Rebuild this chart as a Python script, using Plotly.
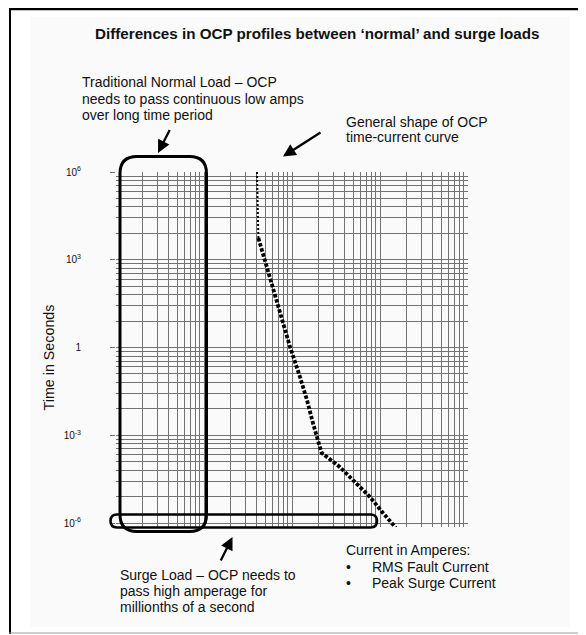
import plotly.graph_objects as go

# ---------------- data ----------------
# thin dotted top part of OCP time-current curve (current A, time s)
upper_current = [40, 41.5]
upper_time = [1e6, 5500]
# thick dotted main part
lower_current = [41.5, 56, 73, 95, 123, 148, 173, 217, 351, 493, 770, 1082, 1515]
lower_time = [5500, 257, 15, 1.05, 0.1, 0.016, 0.0026, 2.5e-4, 8.1e-5, 2.9e-5, 7.7e-6, 2.2e-6, 6.8e-7]

y_major_vals = [1e-6, 1e-3, 1, 1e3, 1e6]
y_major_text = ["10<sup>-6</sup>", "10<sup>-3</sup>", "1", "10<sup>3</sup>", "10<sup>6</sup>"]
# log-paper grid: each labelled cycle spans 3 decades
y_minor_vals = [(m ** 3) * 10 ** (3 * k) for k in range(-2, 2) for m in range(2, 10)]
x_major_vals = [1, 10, 100, 1000, 10000]
x_minor_vals = [m * 10 ** k for k in range(0, 4) for m in range(2, 10)]

title_text = "Differences in OCP profiles between \u2018normal\u2019 and surge loads"
normal_lines = ["Traditional Normal Load \u2013 OCP", "needs to pass continuous low amps", "over long time period"]
shape_lines = ["General shape of OCP", "time-current curve"]
surge_lines = ["Surge Load \u2013 OCP needs to", "pass high amperage for", "millionths of a second"]
current_head = "Current in Amperes:"
current_items = ["RMS Fault Current", "Peak Surge Current"]

# ---------------- layout geometry ----------------
OFF = 8                      # page body margin: figure starts 8px in
W, H = 586 - OFF, 635 - OFF
# plot area in page pixels
PL, PR, PT, PB = 116, 468, 172, 527
L, R, T, B = PL - OFF, PR - OFF, PT - OFF, PB - OFF
FONT = "Liberation Sans, Arial, sans-serif"
GRID = "#727272"


def px(xp):
    return (xp - PL) / (PR - PL)


def py(yp):
    return (PB - yp) / (PB - PT)


def rounded_path(x0, y0, x1, y1, r):
    pts = [
        ("M", [(x0 + r, y0)]), ("L", [(x1 - r, y0)]), ("Q", [(x1, y0), (x1, y0 + r)]),
        ("L", [(x1, y1 - r)]), ("Q", [(x1, y1), (x1 - r, y1)]),
        ("L", [(x0 + r, y1)]), ("Q", [(x0, y1), (x0, y1 - r)]),
        ("L", [(x0, y0 + r)]), ("Q", [(x0, y0), (x0 + r, y0)]),
    ]
    s = ""
    for cmd, ps in pts:
        s += cmd + " " + " ".join(f"{px(a):.5f},{py(b):.5f}" for a, b in ps) + " "
    return s + "Z"


fig = go.Figure()
fig.add_trace(go.Scatter(x=upper_current, y=upper_time, mode="lines",
                         line=dict(color="black", width=2, dash="2px,2px"),
                         showlegend=False, hoverinfo="skip"))
fig.add_trace(go.Scatter(x=lower_current, y=lower_time, mode="lines",
                         line=dict(color="black", width=3.8, dash="3.5px,1.8px"),
                         showlegend=False, hoverinfo="skip"))

shapes = []
# frame
shapes.append(dict(type="rect", xref="paper", yref="paper", x0=px(30), x1=px(570), y0=py(627), y1=py(17),
                   fillcolor="#fafafa", line=dict(width=0), layer="below"))
shapes.append(dict(type="line", xref="paper", yref="paper", x0=px(9), x1=px(586), y0=py(9), y1=py(9),
                   line=dict(color="black", width=2.5)))
shapes.append(dict(type="line", xref="paper", yref="paper", x0=px(10), x1=px(10), y0=py(8), y1=py(634),
                   line=dict(color="black", width=2)))
shapes.append(dict(type="line", xref="paper", yref="paper", x0=px(9), x1=px(586), y0=py(633), y1=py(633),
                   line=dict(color="#9a9a9a", width=1)))
# rounded boxes
shapes.append(dict(type="path", xref="paper", yref="paper", path=rounded_path(120, 156.5, 206.5, 531.5, 17),
                   line=dict(color="black", width=3)))
shapes.append(dict(type="path", xref="paper", yref="paper", path=rounded_path(110.5, 514.5, 377, 527.5, 6.5),
                   line=dict(color="black", width=2.6)))

ann = []


def txt(s, x, y, size=14, anchor="left", bold=False):
    ann.append(dict(text=f"<b>{s}</b>" if bold else s, xref="paper", yref="paper", x=px(x), y=py(y),
                    xanchor=anchor, yanchor="middle", showarrow=False,
                    font=dict(family=FONT, size=size, color="#111111")))


def arrow(hx, hy, tx, ty):
    ann.append(dict(text="", xref="paper", yref="paper", x=px(hx), y=py(hy), ax=tx - hx, ay=ty - hy,
                    showarrow=True, arrowhead=2, arrowsize=1.1, arrowwidth=2.3, arrowcolor="black",
                    standoff=0, startstandoff=0))


txt(title_text, 317.5, 33, size=15.2, anchor="center", bold=True)
for i, s in enumerate(normal_lines):
    txt(s, 80, 82 + 16.5 * i)
for i, s in enumerate(shape_lines):
    txt(s, 344, 122 + 15.5 * i)
for i, s in enumerate(surge_lines):
    txt(s, 117.5, 575 + 16.2 * i)
txt(current_head, 343.5, 550)
for i, s in enumerate(current_items):
    txt("\u2022", 348.5, 566.5 + 16.2 * i, anchor="center")
    txt(s, 369.5, 566.5 + 16.2 * i)
# y axis title
ann.append(dict(text="Time in Seconds", xref="paper", yref="paper", x=px(48.5), y=py(358),
                xanchor="center", yanchor="middle", showarrow=False, textangle=-90,
                font=dict(family=FONT, size=14.3, color="#111111")))
arrow(158, 153, 170.5, 128.5)
arrow(283, 156.5, 322, 131.5)
arrow(232.5, 537, 220, 562)

y_bottom = -6 - (PB - 523) / 29.25
fig.update_layout(
    width=W, height=H, autosize=False,
    margin=dict(l=L, r=W - R, t=T, b=H - B, pad=0),
    paper_bgcolor="white", plot_bgcolor="rgba(0,0,0,0)",
    shapes=shapes, annotations=ann, showlegend=False,
    xaxis=dict(type="log", range=[0, 4], showticklabels=False, ticks="",
               tickmode="array", tickvals=x_major_vals,
               showgrid=True, gridcolor=GRID, gridwidth=1, zeroline=False, showline=False,
               minor=dict(tickmode="array", tickvals=x_minor_vals, showgrid=True,
                          gridcolor=GRID, gridwidth=1, ticks="")),
    yaxis=dict(type="log", range=[y_bottom, 6], tickmode="array", tickvals=y_major_vals,
               ticktext=y_major_text, ticks="outside", ticklen=5, tickcolor=GRID, tickwidth=1,
               ticklabelstandoff=27,
               tickfont=dict(family=FONT, size=10, color="#111111"),
               showgrid=True, gridcolor=GRID, gridwidth=1, zeroline=False, showline=False,
               minor=dict(tickmode="array", tickvals=y_minor_vals, showgrid=True,
                          gridcolor=GRID, gridwidth=1, ticks="")),
)

fig.write_html("out.html")
